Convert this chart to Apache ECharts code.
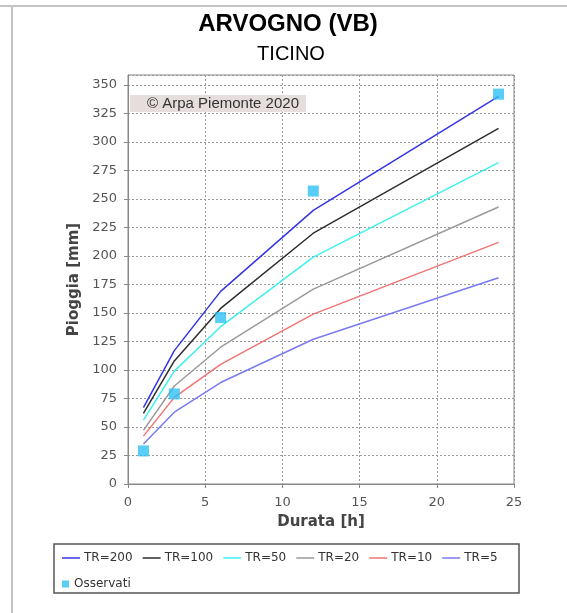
<!DOCTYPE html>
<html><head><meta charset="utf-8">
<script src="https://cdn.jsdelivr.net/npm/echarts@6/dist/echarts.min.js"></script>
<style>html,body{margin:0;padding:0;background:#fff}#c{width:567px;height:613px}</style>
</head><body><div id="c"></div>
<script>
const durations = [1, 3, 6, 12, 24];
const tr200 = [67, 117, 169, 240, 340];
const tr100 = [62, 108, 154, 220, 312];
const tr50 = [56, 99, 138, 199, 282];
const tr20 = [47, 86, 120, 171, 243];
const tr10 = [42, 76, 105, 149, 212];
const tr5 = [35, 63, 89, 127, 181];
const obsDur = [1, 3, 6, 12, 24];
const obsVal = [29, 79, 146, 257, 342];

const seriesDefs = [
  {name: 'TR=200', data: tr200, color: '#3535e8'},
  {name: 'TR=100', data: tr100, color: '#2e2e2e'},
  {name: 'TR=50', data: tr50, color: '#3ff0f0'},
  {name: 'TR=20', data: tr20, color: '#9a9a9a'},
  {name: 'TR=10', data: tr10, color: '#f07474'},
  {name: 'TR=5', data: tr5, color: '#7a7af0'}
];
const obsColor = '#2ec0f2';
const chart = echarts.init(document.getElementById('c'), null, {renderer: 'canvas'});
const series = seriesDefs.map(s => ({
  name: s.name, type: 'line', data: durations.map((d, i) => [d, s.data[i]]),
  symbol: 'none', color: s.color, lineStyle: {color: s.color, width: 1.5}, itemStyle: {color: s.color},
  z: 3
}));
series.push({
  name: 'Osservati', type: 'scatter', data: obsDur.map((d, i) => [d, obsVal[i]]),
  symbol: 'rect', symbolSize: 11, color: obsColor, itemStyle: {color: obsColor}, z: 5
});
const legendText = {fontFamily: 'DejaVu Sans', fontSize: 12, color: '#333', padding: [0, 0, 0, -1]};
chart.setOption({
  animation: false,
  title: [
    {text: 'ARVOGNO (VB)', left: 283, top: 7, textAlign: 'center',
     textStyle: {fontFamily: 'Liberation Sans', fontWeight: 'bold', fontSize: 24, color: '#000'}},
    {text: 'TICINO', left: 286, top: 39, textAlign: 'center',
     textStyle: {fontFamily: 'Liberation Sans', fontWeight: 'normal', fontSize: 20, color: '#000'}}
  ],
  grid: {left: 128, right: 53, top: 75, bottom: 129, show: true, borderColor: '#888', borderWidth: 1, backgroundColor: '#fff'},
  xAxis: {
    type: 'value', min: 0, max: 25, interval: 5,
    offset: 6,
    name: 'Durata [h]', nameLocation: 'middle', nameGap: 25,
    nameTextStyle: {fontFamily: 'DejaVu Sans', fontWeight: 'bold', fontSize: 15, color: '#444'},
    axisLine: {show: true, lineStyle: {color: '#888'}},
    axisTick: {show: true, length: 4, lineStyle: {color: '#888'}},
    axisLabel: {fontFamily: 'DejaVu Sans', fontSize: 13, color: '#555', margin: 6},
    splitLine: {show: true, lineStyle: {color: '#999', type: [2, 2], width: 1}}
  },
  yAxis: {
    type: 'value', min: 0, max: 358.8, interval: 25,
    offset: 5,
    name: 'Pioggia [mm]', nameLocation: 'middle', nameGap: 34,
    nameTextStyle: {fontFamily: 'DejaVu Sans', fontWeight: 'bold', fontSize: 15, color: '#444'},
    axisLine: {show: true, lineStyle: {color: '#888'}},
    axisTick: {show: true, length: 4, lineStyle: {color: '#888'}},
    axisLabel: {fontFamily: 'DejaVu Sans', fontSize: 13, color: '#555', margin: 6, showMaxLabel: false},
    splitLine: {show: true, lineStyle: {color: '#999', type: [2, 2], width: 1}}
  },
  legend: [
    {
      left: 57, top: 547, itemGap: 10, itemWidth: 18, itemHeight: 1.5,
      textStyle: legendText,
      data: seriesDefs.map(s => ({name: s.name, icon: 'rect', itemStyle: {color: s.color, borderWidth: 0}}))
    },
    {
      left: 57, top: 573, itemGap: 10, itemWidth: 7, itemHeight: 7,
      textStyle: Object.assign({}, legendText, {padding: [0, 0, 0, 0]}),
      data: [{name: 'Osservati', icon: 'rect', itemStyle: {color: obsColor, borderWidth: 0}}]
    }
  ],
  graphic: [
    {type: 'rect', shape: {x: 0, y: 5, width: 567, height: 2}, style: {fill: '#c4c4c4'}, silent: true},
    {type: 'rect', shape: {x: 11, y: 5, width: 2, height: 608}, style: {fill: '#c4c4c4'}, silent: true},
    {type: 'rect', shape: {x: 54, y: 544, width: 465, height: 49}, style: {fill: 'none', stroke: '#555', lineWidth: 1.5}, silent: true},
    {type: 'rect', shape: {x: 130, y: 95, width: 176, height: 17}, style: {fill: '#e6dddd'}, z: 10, silent: true},
    {type: 'text', x: 147, y: 103.5, z: 11, style: {text: '© Arpa Piemonte 2020', font: '15px "Liberation Sans"', fill: '#333', verticalAlign: 'middle'}, silent: true}
  ],
  series: series
});
</script></body></html>
